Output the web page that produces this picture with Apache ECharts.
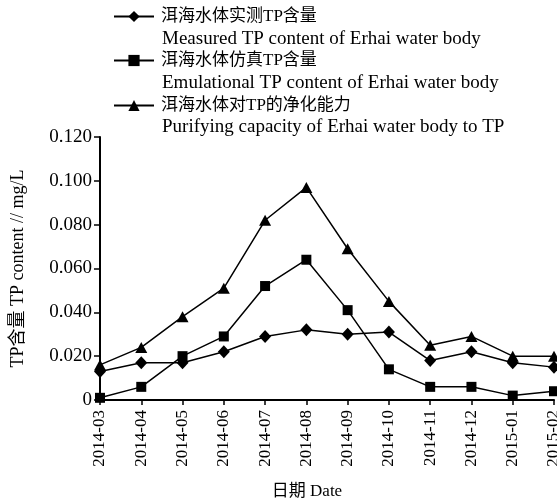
<!DOCTYPE html>
<html>
<head>
<meta charset="utf-8">
<script src="https://cdn.jsdelivr.net/npm/echarts@6/dist/echarts.min.js"></script>
<style>html,body{margin:0;padding:0;background:#fff;}#c{width:557px;height:499px;}</style>
</head>
<body>
<div id="c"></div>
<script>
const categories = ['2014-03','2014-04','2014-05','2014-06','2014-07','2014-08','2014-09','2014-10','2014-11','2014-12','2015-01','2015-02'];
const measured = [0.013,0.017,0.017,0.022,0.029,0.032,0.030,0.031,0.018,0.022,0.017,0.015];
const emulational = [0.001,0.006,0.020,0.029,0.052,0.064,0.041,0.014,0.006,0.006,0.002,0.004];
const purifying = [0.016,0.024,0.038,0.051,0.082,0.097,0.069,0.045,0.025,0.029,0.020,0.020];
const cnNames = ['洱海水体实测TP含量','洱海水体仿真TP含量','洱海水体对TP的净化能力'];
const enNames = ['Measured TP content of Erhai water body','Emulational TP content of Erhai water body','Purifying capacity of Erhai water body to TP'];
const yAxisName = 'TP含量 TP content // mg/L';
const xAxisName = '日期 Date';

const FONT = "'Liberation Serif','Noto Sans CJK SC'";
const chart = echarts.init(document.getElementById('c'), null, {renderer:'canvas'});
const symbols = ['diamond','rect','triangle'];
const sizes = [[12,13],[10,10],[12,11]];
const dataSets = [measured, emulational, purifying];
const legendTops = [8, 52, 97];
const enTops = [40, 84, 128];

const option = {
  animation: false,
  backgroundColor: '#fff',
  grid: {left: 100, right: 3, top: 137, bottom: 99, containLabel: false, outerBoundsMode: 'none'},
  legend: cnNames.map((n, i) => ({
    data: [n], left: 113, top: legendTops[i], padding: 0,
    itemWidth: 40, itemHeight: 14, itemGap: 0,
    textStyle: {fontFamily: FONT, fontSize: 17, color: '#000', padding: [0,0,0,2]}
  })),
  graphic: enNames.map((t, i) => ({
    type: 'text', left: 162, top: enTops[i] - 10,
    style: {text: t, fontFamily: FONT, fontSize: 19, fill: '#000'}
  })),
  xAxis: {
    type: 'category', data: categories, boundaryGap: false,
    axisLine: {lineStyle: {color: '#000', width: 2}},
    axisTick: {show: true, length: 5, lineStyle: {color: '#000', width: 1.5}},
    axisLabel: {rotate: 90, margin: 10, color: '#000', fontFamily: FONT, fontSize: 17, interval: 0},
    name: xAxisName, nameLocation: 'middle', nameGap: 83,
    nameTextStyle: {color: '#000', fontFamily: FONT, fontSize: 17, padding: [0, 40, 0, 0]}
  },
  yAxis: {
    type: 'value', min: 0, max: 0.12, interval: 0.02,
    axisLine: {show: true, lineStyle: {color: '#000', width: 2}},
    axisTick: {show: true, length: 6, lineStyle: {color: '#000', width: 1.5}},
    splitLine: {show: false},
    axisLabel: {color: '#000', fontFamily: FONT, fontSize: 19, margin: 8,
      formatter: v => v === 0 ? '0' : v.toFixed(3)},
    name: yAxisName, nameLocation: 'middle', nameGap: 73,
    nameTextStyle: {color: '#000', fontFamily: FONT, fontSize: 18, padding: [0, 0, 0, 0]}
  },
  series: cnNames.map((n, i) => ({
    name: n, type: 'line', data: dataSets[i],
    symbol: symbols[i], symbolSize: sizes[i],
    lineStyle: {color: '#000', width: 1.5},
    itemStyle: {color: '#000'},
    z: 3 - i
  }))
};
chart.setOption(option);
</script>
</body>
</html>
